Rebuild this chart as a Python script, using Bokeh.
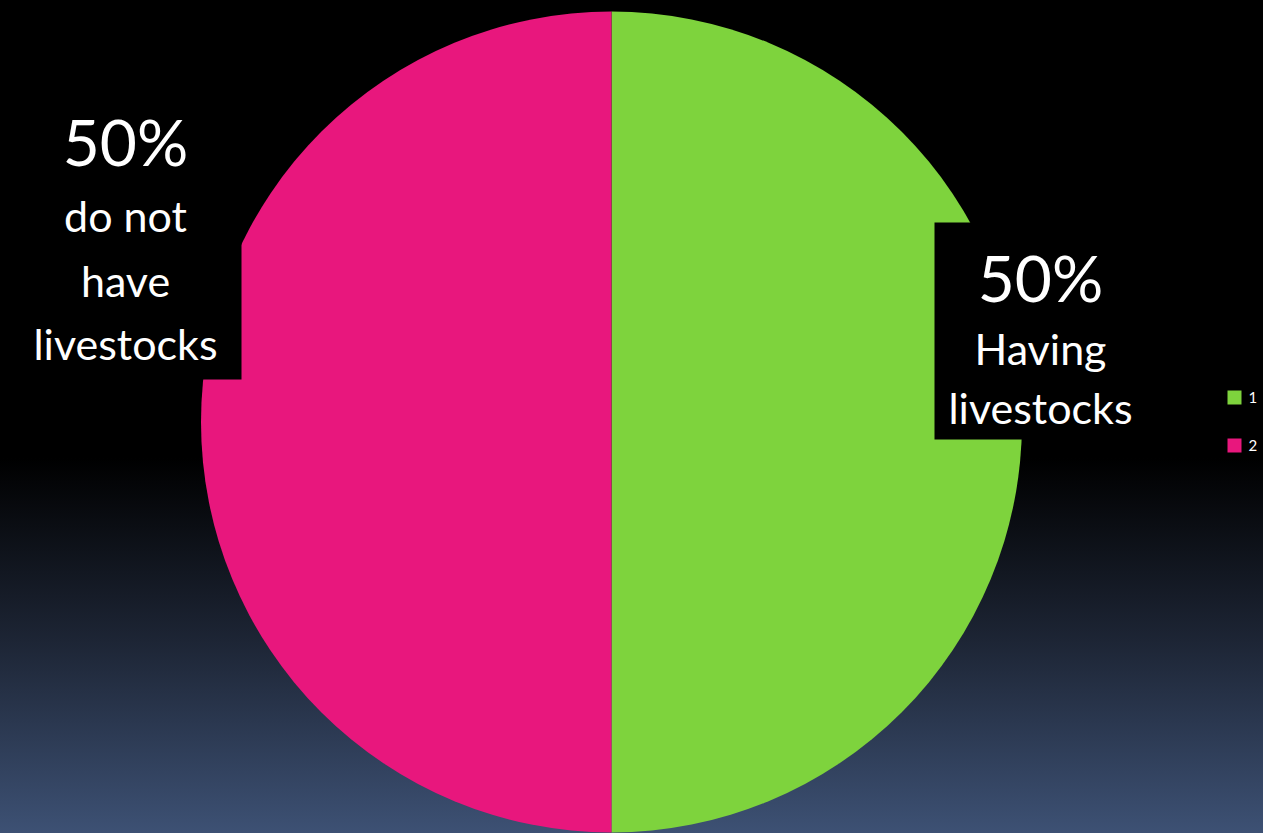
import numpy as np
from bokeh.plotting import figure
from bokeh.models import Range1d
from bokeh.core.properties import value
from bokeh.embed import file_html
from bokeh.resources import INLINE

# ---- data ----
categories = ["1", "2"]
shares = [50, 50]
pct_labels = ["50%", "50%"]
desc_lines = [["Having", "livestocks"], ["do not", "have", "livestocks"]]
colors = ["#7ED33D", "#E8177D"]

W, H = 1263, 833
FONT = "Lato"

p = figure(width=W, height=H, output_backend="svg", toolbar_location=None,
           x_range=Range1d(0, W), y_range=Range1d(0, H), min_border=0)
p.axis.visible = False
p.grid.visible = False
p.outline_line_color = None
p.background_fill_alpha = 0
p.border_fill_alpha = 0
p.styles = {"background": "linear-gradient(to bottom, #000000 0%, #000000 55%, #1d2535 77%, #3d5174 100%)"}

def Y(py):
    return H - py

# pie
cx, cy, r = 611, Y(421.5), 410.5
vals = np.array(shares, dtype=float)
cum = np.cumsum(vals)
prev = cum - vals
start_cw = np.pi / 2 - 2 * np.pi * prev / vals.sum()
end_cw = np.pi / 2 - 2 * np.pi * cum / vals.sum()
for i in range(len(vals)):
    p.wedge(x=cx, y=cy, radius=r, start_angle=end_cw[i], end_angle=start_cw[i],
            direction="anticlock", fill_color=colors[i], line_color=None)

# label boxes (black)
p.quad(left=[934, 0], right=[1140, 241], top=[Y(222), Y(95)], bottom=[Y(439), Y(379)],
       fill_color="black", line_color=None)

# label texts
label_cx = [1040, 125]
pct_cy = [277, 141]
line_cy = [[348, 407], [215, 280, 343]]
for i in range(len(categories)):
    p.text(x=[label_cx[i]], y=[Y(pct_cy[i])], text=[pct_labels[i]], text_color="white",
           text_font=value(FONT), text_font_size="64px", text_align="center",
           text_baseline="middle")
    for j, line in enumerate(desc_lines[i]):
        p.text(x=[label_cx[i]], y=[Y(line_cy[i][j])], text=[line], text_color="white",
               text_font=value(FONT), text_font_size="43px", text_align="center",
               text_baseline="middle")

# legend
leg_y = [397, 445]
for i, c in enumerate(categories):
    p.rect(x=[1234], y=[Y(leg_y[i])], width=14, height=14, width_units="screen",
           height_units="screen", fill_color=colors[i], line_color=None)
    p.text(x=[1248], y=[Y(leg_y[i])], text=[c], text_color="white",
           text_font=value(FONT), text_font_size="15px", text_align="left",
           text_baseline="middle")

open("out.html", "w").write(file_html(p, INLINE))
